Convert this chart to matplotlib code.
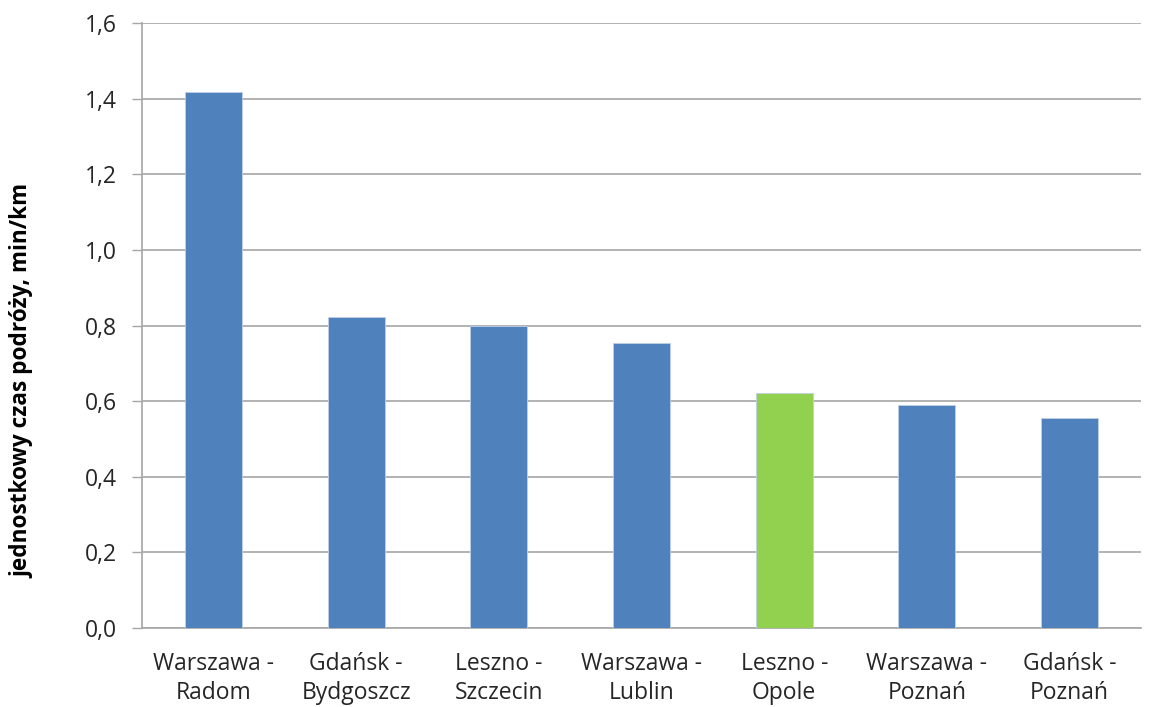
import numpy as np
import matplotlib.pyplot as plt
from matplotlib.ticker import MultipleLocator, FuncFormatter

plt.rcParams['font.family'] = ['Open Sans', 'DejaVu Sans']

# Dane
relacje = ['Warszawa -\nRadom', 'Gdańsk -\nBydgoszcz', 'Leszno -\nSzczecin',
           'Warszawa -\nLublin', 'Leszno -\nOpole', 'Warszawa -\nPoznań',
           'Gdańsk -\nPoznań']
czas = [1.417, 0.823, 0.799, 0.753, 0.621, 0.590, 0.556]
kolory = ['#4F81BD', '#4F81BD', '#4F81BD', '#4F81BD', '#92D050', '#4F81BD', '#4F81BD']

fig = plt.figure(figsize=(11.53, 7.07), dpi=100)
ax = fig.add_axes([0.1232, 0.1117, 0.8664, 0.8558])

x = np.arange(len(relacje))
ax.bar(x, czas, width=0.4, color=kolory, zorder=3,
       edgecolor='#BFD0E6', linewidth=0.6)

ax.set_xlim(-0.5, len(relacje) - 0.5)
ax.set_ylim(0, 1.6)
ax.yaxis.set_major_locator(MultipleLocator(0.2))
ax.yaxis.set_major_formatter(FuncFormatter(lambda v, p: f'{v:.1f}'.replace('.', ',')))

ax.grid(axis='y', color='#A6A6A6', linewidth=1.2, zorder=0)
ax.set_xticks(x)
ax.set_xticklabels(relacje, fontsize=16.5, linespacing=1.3, color='#262626')
ax.tick_params(axis='x', length=0, pad=17)
ax.tick_params(axis='y', length=7, width=1, color='#A6A6A6', pad=11,
               labelsize=16.5, labelcolor='#262626')

for s in ['top', 'right']:
    ax.spines[s].set_visible(False)
ax.spines['left'].set_color('#A6A6A6')
ax.spines['bottom'].set_color('#A6A6A6')
ax.spines['left'].set_linewidth(1.2)
ax.spines['bottom'].set_linewidth(1.2)

ax.set_ylabel('jednostkowy czas podróży, min/km', fontsize=16.3, fontweight='bold')
ax.yaxis.set_label_coords(-0.108, 0.408)

plt.savefig('out.png', dpi=100)
